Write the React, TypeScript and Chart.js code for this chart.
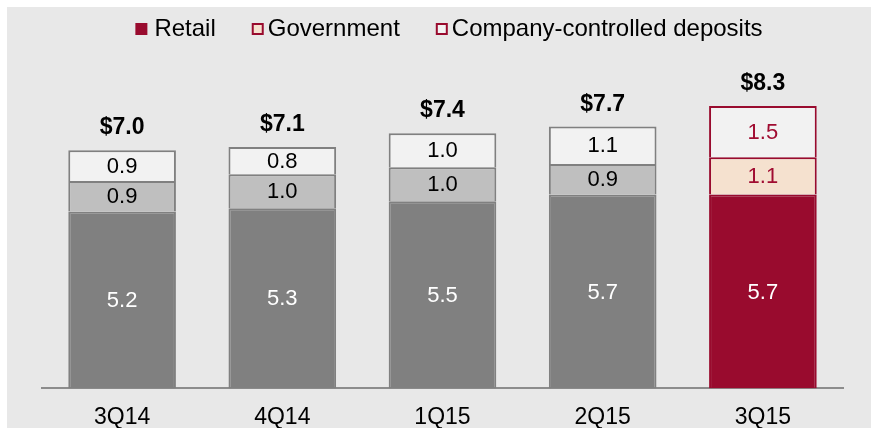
import React, { useEffect, useRef } from "react";
import { Chart, registerables } from "chart.js";

Chart.register(...registerables);

const categories = ["3Q14", "4Q14", "1Q15", "2Q15", "3Q15"];
const retail = [5.2, 5.3, 5.5, 5.7, 5.7];
const government = [0.9, 1.0, 1.0, 0.9, 1.1];
const companyDeposits = [0.9, 0.8, 1.0, 1.1, 1.5];
const totalLabels = ["$7.0", "$7.1", "$7.4", "$7.7", "$8.3"];
const legendLabels = ["Retail", "Government", "Company-controlled deposits"];
const highlightIndex = 4;

const FONT = "'Liberation Sans', Arial, Helvetica, sans-serif";
const RED = "#990b2e";
const RED_TEXT = "#a00c31";
const DARK_GRAY = "#808080";
const MID_GRAY = "#bfbfbf";
const LIGHT = "#f2f2f2";
const BEIGE = "#f5e1cf";
const BG = "#e8e8e8";

const pick = (hl: string, normal: string) =>
  categories.map((_, i) => (i === highlightIndex ? hl : normal));

const legendPlugin = {
  id: "customLegend",
  afterDraw(chart: any) {
    const ctx = chart.ctx;
    ctx.save();
    ctx.font = `24px ${FONT}`;
    ctx.textBaseline = "alphabetic";
    ctx.textAlign = "left";
    const items = [
      { label: legendLabels[0], fill: RED, stroke: RED, gap: 7 },
      { label: legendLabels[1], fill: BEIGE, stroke: RED, gap: 4 },
      { label: legendLabels[2], fill: LIGHT, stroke: RED, gap: 4 },
    ];
    const box = 12;
    const spacing = 36;
    let total = 0;
    items.forEach((it, i) => {
      total += box + it.gap + ctx.measureText(it.label).width;
      if (i < items.length - 1) total += spacing;
    });
    let x = chart.width / 2 + 10 - total / 2;
    const boxTop = 16;
    const baseline = 29;
    items.forEach((it) => {
      ctx.fillStyle = it.stroke;
      ctx.fillRect(x, boxTop, box, box);
      if (it.fill !== it.stroke) {
        ctx.fillStyle = it.fill;
        ctx.fillRect(x + 2, boxTop + 2, box - 4, box - 4);
      }
      x += box + it.gap;
      ctx.fillStyle = "#000";
      ctx.fillText(it.label, x, baseline);
      x += ctx.measureText(it.label).width + spacing;
    });
    ctx.restore();
  },
};

const labelPlugin = {
  id: "valueLabels",
  afterDatasetsDraw(chart: any) {
    const ctx = chart.ctx;
    ctx.save();
    ctx.textAlign = "center";
    ctx.font = `22px ${FONT}`;
    ctx.textBaseline = "middle";
    const textColors = [
      pick("#ffffff", "#ffffff"),
      pick(RED_TEXT, "#000000"),
      pick(RED_TEXT, "#000000"),
    ];
    chart.data.datasets.forEach((ds: any, di: number) => {
      const meta = chart.getDatasetMeta(di);
      meta.data.forEach((bar: any, i: number) => {
        const v = ds.data[i];
        ctx.fillStyle = textColors[di][i];
        ctx.fillText(v.toFixed(1), bar.x, (bar.y + bar.base) / 2 + 1);
      });
    });
    const topMeta = chart.getDatasetMeta(chart.data.datasets.length - 1);
    ctx.font = `bold 23px ${FONT}`;
    ctx.textBaseline = "alphabetic";
    ctx.fillStyle = "#000";
    topMeta.data.forEach((bar: any, i: number) => {
      ctx.fillText(totalLabels[i], bar.x, bar.y - 16);
    });
    ctx.restore();
  },
};

export default function App() {
  const canvasRef = useRef<HTMLCanvasElement | null>(null);

  useEffect(() => {
    if (!canvasRef.current) return;
    const common = {
      borderWidth: 2,
      borderSkipped: "start" as const,
      categoryPercentage: 1,
      barPercentage: 0.672,
    };
    const chart = new Chart(canvasRef.current, {
      type: "bar",
      data: {
        labels: categories,
        datasets: [
          {
            label: legendLabels[0],
            data: retail,
            backgroundColor: pick(RED, DARK_GRAY),
            borderColor: pick(RED, DARK_GRAY),
            ...common,
          },
          {
            label: legendLabels[1],
            data: government,
            backgroundColor: pick(BEIGE, MID_GRAY),
            borderColor: pick(RED, DARK_GRAY),
            ...common,
          },
          {
            label: legendLabels[2],
            data: companyDeposits,
            backgroundColor: pick(LIGHT, LIGHT),
            borderColor: pick(RED, DARK_GRAY),
            ...common,
          },
        ],
      },
      options: {
        animation: false,
        responsive: true,
        maintainAspectRatio: false,
        layout: { padding: { top: 60, left: 35, right: 28, bottom: 0 } },
        plugins: {
          legend: { display: false },
          tooltip: { enabled: false },
        },
        scales: {
          x: {
            stacked: true,
            offset: true,
            grid: { display: false, drawTicks: false },
            border: { display: true, color: "#8c8c8c", width: 2 },
            ticks: {
              color: "#000",
              font: { family: FONT, size: 23 },
              padding: 15,
              maxRotation: 0,
              autoSkip: false,
            },
          },
          y: {
            stacked: true,
            display: false,
            min: 0,
            max: 9.45,
          },
        },
      },
      plugins: [legendPlugin, labelPlugin],
    });
    return () => chart.destroy();
  }, []);

  return (
    <div
      style={{
        position: "fixed",
        left: 7,
        top: 7,
        width: 864,
        height: 439,
        background: BG,
      }}
    >
      <canvas ref={canvasRef} />
    </div>
  );
}
